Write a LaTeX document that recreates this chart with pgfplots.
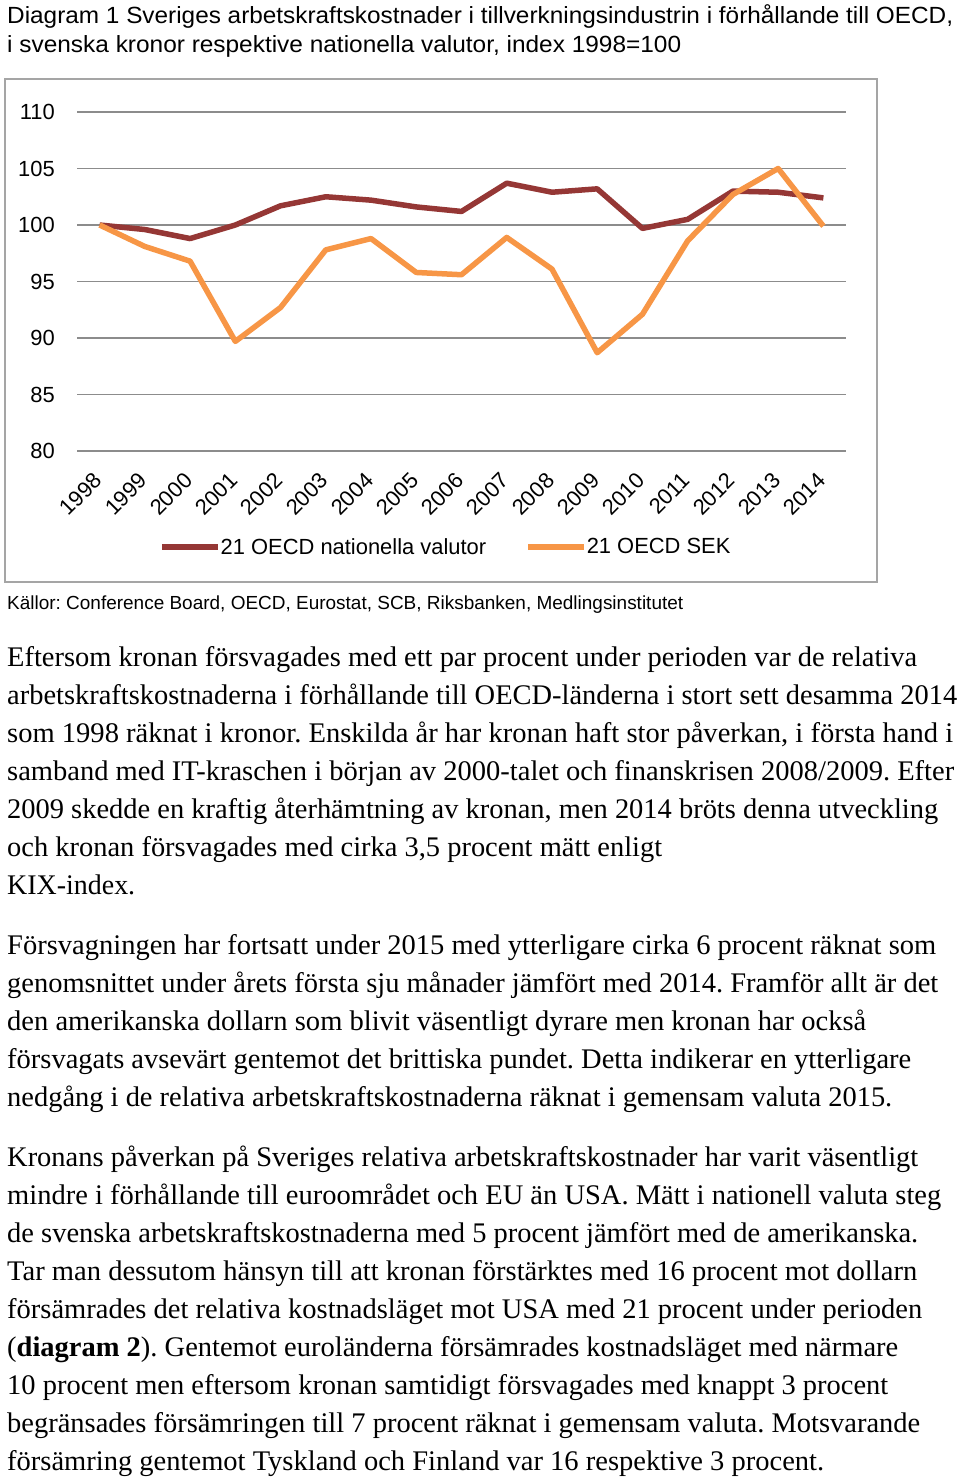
\documentclass[border=0pt]{standalone}
\usepackage{fontspec}
\usepackage{graphicx}
\usepackage{pgfplots}
\pgfplotsset{compat=1.18}
\setmainfont{Liberation Serif}
\newfontfamily\arial{Liberation Sans}
\definecolor{darkred}{RGB}{149,55,53}
\definecolor{orangeline}{RGB}{247,150,70}
\definecolor{gridgray}{RGB}{140,140,140}
\definecolor{framegray}{RGB}{165,165,165}
\newcommand{\bodyline}[3]{\node[anchor=base west, inner sep=0pt] at (7bp,-#1bp) {\fontsize{28.5}{34}\selectfont\resizebox{#2bp}{\height}{#3}};}
\frenchspacing
\begin{document}
\frenchspacing
\begin{tikzpicture}
\path[use as bounding box] (0,0) rectangle (960bp,-1482bp);
% title
\node[anchor=base west, inner sep=0pt] at (7bp,-24bp) {\arial\fontsize{23.5}{28}\selectfont\resizebox{946bp}{\height}{Diagram 1 Sveriges arbetskraftskostnader i tillverkningsindustrin i förhållande till OECD,}};
\node[anchor=base west, inner sep=0pt] at (7bp,-52.5bp) {\arial\fontsize{23.5}{28}\selectfont\resizebox{674bp}{\height}{i svenska kronor respektive nationella valutor, index 1998=100}};
% frame
\draw[framegray, line width=2bp] (5bp,-79bp) rectangle (877bp,-582bp);
\begin{axis}[
 at={(77bp,-451bp)}, anchor=south west,
 width=769bp, height=339bp, scale only axis,
 xmin=-0.5, xmax=16.5, ymin=80, ymax=110,
 xtick={0,...,16},
 xticklabels={1998,1999,2000,2001,2002,2003,2004,2005,2006,2007,2008,2009,2010,2011,2012,2013,2014},
 ytick={80,85,...,110},
 ymajorgrids,
 major grid style={draw=gridgray, line width=1.5bp},
 axis line style={draw=none},
 major tick length=0pt,
 tick label style={font=\arial\fontsize{22}{22}\selectfont},
 /pgf/number format/assume math mode=true,
 xticklabel style={xshift=-1.5bp, yshift=-25.8bp, rotate=45, anchor=east, inner sep=0pt},
 yticklabel style={xshift=-22bp, anchor=east, inner sep=0pt},
 clip=false,
 legend columns=2,
 legend style={at={(0.1066,-0.283)}, anchor=west, draw=none, fill=none, inner sep=0pt,
   font=\arial\fontsize{22}{22}\selectfont,
   nodes={inner xsep=0pt, inner ysep=1bp},
   /tikz/every even column/.append style={column sep=39bp}},
 legend image code/.code={\draw[#1] (0bp,0bp) -- (56bp,0bp);},
]
\addplot[darkred, line width=5.5bp, line join=round] coordinates {
(0,100) (1,99.6) (2,98.8) (3,100.0) (4,101.7) (5,102.5) (6,102.2) (7,101.6) (8,101.2)
(9,103.7) (10,102.9) (11,103.2) (12,99.7) (13,100.5) (14,103.0) (15,102.9) (16,102.4)};
\addlegendentry{21 OECD nationella valutor}
\addplot[orangeline, line width=5.5bp, line join=round] coordinates {
(0,100) (1,98.1) (2,96.8) (3,89.7) (4,92.7) (5,97.8) (6,98.8) (7,95.8) (8,95.6)
(9,98.9) (10,96.1) (11,88.7) (12,92.1) (13,98.6) (14,102.7) (15,105.0) (16,99.9)};
\addlegendentry{21 OECD SEK}
\end{axis}
% source
\node[anchor=base west, inner sep=0pt] at (7bp,-609bp) {\arial\fontsize{19}{22}\selectfont\resizebox{676bp}{\height}{Källor: Conference Board, OECD, Eurostat, SCB, Riksbanken, Medlingsinstitutet}};
% paragraph 1
\bodyline{666}{910}{Eftersom kronan försvagades med ett par procent under perioden var de relativa}
\bodyline{704}{950}{arbetskraftskostnaderna i förhållande till OECD-länderna i stort sett desamma 2014}
\bodyline{742}{946}{som 1998 räknat i kronor. Enskilda år har kronan haft stor påverkan, i första hand i}
\bodyline{780}{947}{samband med IT-kraschen i början av 2000-talet och finanskrisen 2008/2009. Efter}
\bodyline{818}{931}{2009 skedde en kraftig återhämtning av kronan, men 2014 bröts denna utveckling}
\bodyline{856}{655}{och kronan försvagades med cirka 3,5 procent mätt enligt}
\bodyline{894}{128}{KIX-index.}
% paragraph 2
\bodyline{954}{929}{Försvagningen har fortsatt under 2015 med ytterligare cirka 6 procent räknat som}
\bodyline{992}{931}{genomsnittet under årets första sju månader jämfört med 2014. Framför allt är det}
\bodyline{1030}{859}{den amerikanska dollarn som blivit väsentligt dyrare men kronan har också}
\bodyline{1068}{904}{försvagats avsevärt gentemot det brittiska pundet. Detta indikerar en ytterligare}
\bodyline{1106}{885}{nedgång i de relativa arbetskraftskostnaderna räknat i gemensam valuta 2015.}
% paragraph 3
\bodyline{1166}{911}{Kronans påverkan på Sveriges relativa arbetskraftskostnader har varit väsentligt}
\bodyline{1204}{934}{mindre i förhållande till euroområdet och EU än USA. Mätt i nationell valuta steg}
\bodyline{1242}{911}{de svenska arbetskraftskostnaderna med 5 procent jämfört med de amerikanska.}
\bodyline{1280}{910}{Tar man dessutom hänsyn till att kronan förstärktes med 16 procent mot dollarn}
\bodyline{1318}{915}{försämrades det relativa kostnadsläget mot USA med 21 procent under perioden}
\bodyline{1356}{891}{(\textbf{diagram 2}). Gentemot euroländerna försämrades kostnadsläget med närmare}
\bodyline{1394}{881}{10 procent men eftersom kronan samtidigt försvagades med knappt 3 procent}
\bodyline{1432}{913}{begränsades försämringen till 7 procent räknat i gemensam valuta. Motsvarande}
\bodyline{1470}{817}{försämring gentemot Tyskland och Finland var 16 respektive 3 procent.}
\end{tikzpicture}
\end{document}
